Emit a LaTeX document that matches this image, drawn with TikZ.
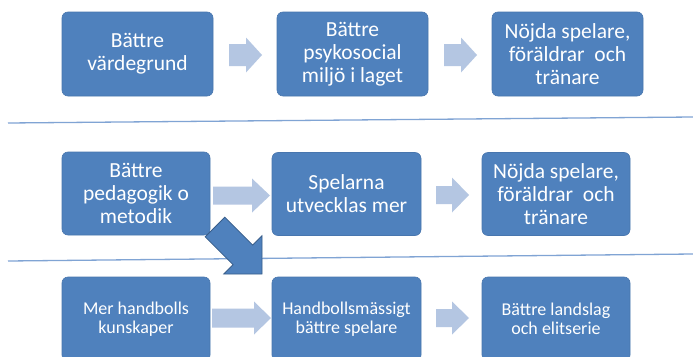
\documentclass[tikz,border=0pt]{standalone}
\usepackage{fontspec}
\setmainfont{Carlito}
\definecolor{boxblue}{RGB}{79,129,189}
\definecolor{boxedge}{RGB}{72,118,174}
\definecolor{palearrow}{RGB}{180,198,226}
\definecolor{darkedge}{RGB}{56,93,138}
\definecolor{sepline}{RGB}{128,164,212}
\newcommand{\blkarrow}[6]{% x0, xbase, xtip, yc, shaft half, head half
  \fill[palearrow] (#1,#4-#5) -- (#2,#4-#5) -- (#2,#4-#6) -- (#3,#4) -- (#2,#4+#6) -- (#2,#4+#5) -- (#1,#4+#5) -- cycle;}
\begin{document}
\begin{tikzpicture}[x=1pt,y=-1pt,
  bigbox/.style={fill=boxblue, draw=boxedge, line width=0.6pt, rounded corners=6pt,
    text=white, align=center, inner sep=0pt,
    font=\fontsize{21.5}{23}\selectfont},
  smallbox/.style={bigbox, font=\fontsize{18}{19.5}\selectfont},
  sep/.style={draw=sepline, line width=1.3pt}]
\useasboundingbox (0,0) rectangle (693,356);
\fill[white] (0,0) rectangle (693,356);
% separator lines
\coordinate (l1a) at (8,123); \coordinate (l1b) at (693,117);
\coordinate (l2a) at (8,261); \coordinate (l2b) at (693,254);
\draw[sep] (l1a) -- (l1b);
\draw[sep] (l2a) -- (l2b);
% row 1
\node[bigbox, minimum width=151pt, minimum height=84pt] (a1) at (137.5,54) {Bättre\\värdegrund};
\node[bigbox, minimum width=151pt, minimum height=84pt] (a2) at (352.5,54) {Bättre\\psykosocial\\miljö i laget};
\node[bigbox, minimum width=151pt, minimum height=84pt] (a3) at (567.5,54) {Nöjda spelare,\\föräldrar\ \ och\\tränare};
% row 2
\node[bigbox, minimum width=148pt, minimum height=83pt] (b1) at (136,193.5) {Bättre\\pedagogik o\\metodik};
\node[bigbox, minimum width=149pt, minimum height=83pt] (b2) at (346.5,194) {Spelarna\\utvecklas mer};
\node[bigbox, minimum width=148pt, minimum height=83pt] (b3) at (556,194) {Nöjda spelare,\\föräldrar\ \ och\\tränare};
% row 3
\node[smallbox, minimum width=148pt, minimum height=84pt] (c1) at (136,319) {Mer handbolls\\kunskaper};
\node[smallbox, minimum width=149pt, minimum height=84pt] (c2) at (346.5,319) {Handbollsmässigt\\bättre spelare};
\node[smallbox, minimum width=148pt, minimum height=84pt] (c3) at (556,319) {Bättre landslag\\och elitserie};
% pale block arrows
\blkarrow{229}{246}{262}{55}{11}{17.5}
\blkarrow{444}{461}{477}{55}{11}{17.5}
\blkarrow{213}{252}{270}{195.5}{9}{17}
\blkarrow{436}{452}{469}{195}{9}{17.5}
\blkarrow{212}{254}{271}{318}{9.5}{16.5}
\blkarrow{436}{452}{469}{318}{9}{16.5}
% dark diagonal arrow
\filldraw[fill=boxblue, draw=darkedge, line width=0.8pt, line join=miter]
  (224.8,217.2) -- (252.7,245.1) -- (262,235.8) -- (262,274) -- (223.8,274)
  -- (233.1,264.7) -- (205.2,236.8) -- cycle;
\end{tikzpicture}
\end{document}
